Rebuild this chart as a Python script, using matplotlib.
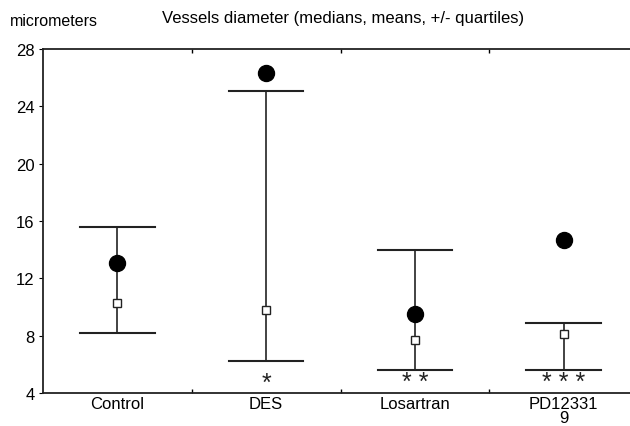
import matplotlib.pyplot as plt
from matplotlib.ticker import FixedLocator

plt.rcParams['font.family'] = ['Liberation Sans', 'DejaVu Sans']

groups = ['Control', 'DES', 'Losartran', 'PD12331\n9']
means = [13.1, 26.3, 9.5, 14.7]
medians = [10.3, 9.8, 7.7, 8.1]
q_low = [8.2, 6.2, 5.6, 5.6]
q_high = [15.6, 25.1, 14.0, 8.9]
stars = ['', '*', '* *', '* * *']

fig = plt.figure(figsize=(6.30, 4.27), dpi=100)
# the scanned plot is cut off on the right, so the axes run past the figure edge
ax = fig.add_axes([43 / 630, 1 - 394 / 427, 595 / 630, 344 / 427])

xs = list(range(len(groups)))
for x, lo, hi in zip(xs, q_low, q_high):
    ax.plot([x, x], [lo, hi], color='#222222', lw=1.2, zorder=2)
    ax.plot([x - 0.25, x + 0.25], [hi, hi], color='#222222', lw=1.5, zorder=2)
    ax.plot([x - 0.25, x + 0.25], [lo, lo], color='#222222', lw=1.5, zorder=2)

ax.plot(xs, means, 'o', color='black', markersize=11.5, ls='none', zorder=3)
ax.plot(xs, medians, 's', mfc='white', mec='#222222', mew=1.0, markersize=6,
        ls='none', zorder=4)

for x, s in zip(xs, stars):
    ax.text(x, 3.9, s, ha='center', va='bottom', fontsize=18, color='#222222')

ax.set_xlim(-0.5, 3.5)
ax.set_ylim(4, 28)
ax.set_yticks([4, 8, 12, 16, 20, 24, 28])
ax.set_xticks(xs)
ax.set_xticklabels(groups, fontsize=12, linespacing=0.9)
ax.xaxis.set_minor_locator(FixedLocator([0.5, 1.5, 2.5]))
ax.tick_params(axis='x', which='major', length=0, pad=2)
ax.tick_params(axis='x', which='minor', direction='in', length=3, top=True,
               bottom=True, width=1.0)
ax.tick_params(axis='y', which='major', direction='out', length=3, labelsize=12,
               pad=3)
ax.spines['right'].set_visible(False)
for sp in ['left', 'top', 'bottom']:
    ax.spines[sp].set_linewidth(1.3)
    ax.spines[sp].set_color('#222222')

fig.text(10 / 630, 1 - 22 / 427, 'micrometers', fontsize=11.5, va='center', ha='left')
fig.text(162 / 630, 1 - 18 / 427, 'Vessels diameter (medians, means, +/- quartiles)',
         fontsize=12, va='center', ha='left')

fig.savefig('out.png', dpi=100)
